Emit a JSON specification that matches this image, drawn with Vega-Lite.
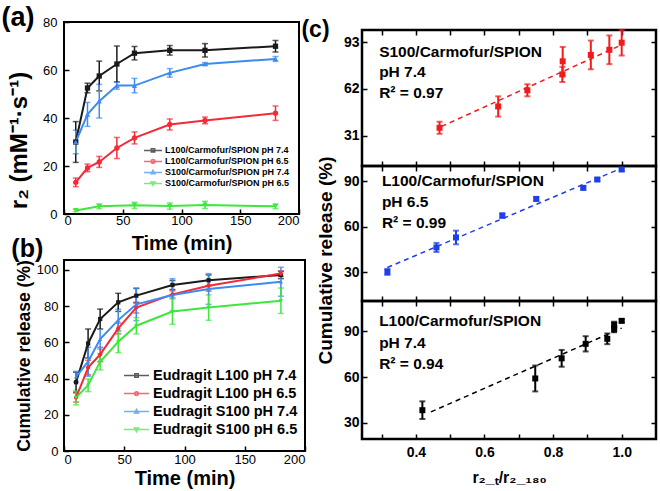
{
  "$schema": "https://vega.github.io/schema/vega-lite/v6.json",
  "background": "white",
  "padding": {"left": 0, "top": 2, "right": 2, "bottom": 2},
  "config": {
    "font": "Liberation Sans",
    "view": {"stroke": "black", "strokeWidth": 2},
    "axis": {"domain": false, "grid": false, "tickColor": "black", "labelColor": "black", "titleColor": "black", "labelFont": "Liberation Sans", "titleFont": "Liberation Sans", "titleFontWeight": "bold", "tickSize": -5, "tickWidth": 1.5},
    "title": {"font": "Liberation Sans", "fontWeight": "bold", "color": "black", "anchor": "start", "frame": "bounds"},
    "legend": {"title": null, "labelFont": "Liberation Sans", "labelFontWeight": "bold", "labelColor": "black", "symbolStrokeWidth": 1.5, "padding": 0}
  },
  "resolve": {"scale": {"color": "independent", "shape": "independent"}},
  "spacing": -7,
  "datasets": {
    "r2": [
      {"t": 10, "v": 30, "e": 8.5, "s": "L100/Carmofur/SPION pH 7.4"},
      {"t": 20, "v": 52.5, "e": 2, "s": "L100/Carmofur/SPION pH 7.4"},
      {"t": 30, "v": 57.5, "e": 6.2, "s": "L100/Carmofur/SPION pH 7.4"},
      {"t": 45, "v": 62.5, "e": 7.5, "s": "L100/Carmofur/SPION pH 7.4"},
      {"t": 60, "v": 67, "e": 2.8, "s": "L100/Carmofur/SPION pH 7.4"},
      {"t": 90, "v": 68.2, "e": 2, "s": "L100/Carmofur/SPION pH 7.4"},
      {"t": 120, "v": 68.2, "e": 2.8, "s": "L100/Carmofur/SPION pH 7.4"},
      {"t": 180, "v": 69.9, "e": 2.4, "s": "L100/Carmofur/SPION pH 7.4"},
      {"t": 10, "v": 13.2, "e": 1.8, "s": "L100/Carmofur/SPION pH 6.5"},
      {"t": 20, "v": 19.2, "e": 1.6, "s": "L100/Carmofur/SPION pH 6.5"},
      {"t": 30, "v": 21.7, "e": 2.3, "s": "L100/Carmofur/SPION pH 6.5"},
      {"t": 45, "v": 27.5, "e": 4.4, "s": "L100/Carmofur/SPION pH 6.5"},
      {"t": 60, "v": 31.7, "e": 2.5, "s": "L100/Carmofur/SPION pH 6.5"},
      {"t": 90, "v": 37.3, "e": 2.3, "s": "L100/Carmofur/SPION pH 6.5"},
      {"t": 120, "v": 39, "e": 1.4, "s": "L100/Carmofur/SPION pH 6.5"},
      {"t": 180, "v": 42, "e": 3, "s": "L100/Carmofur/SPION pH 6.5"},
      {"t": 10, "v": 30, "e": 4.9, "s": "S100/Carmofur/SPION pH 7.4"},
      {"t": 20, "v": 41.5, "e": 5, "s": "S100/Carmofur/SPION pH 7.4"},
      {"t": 30, "v": 47, "e": 7, "s": "S100/Carmofur/SPION pH 7.4"},
      {"t": 45, "v": 53.5, "e": 1.5, "s": "S100/Carmofur/SPION pH 7.4"},
      {"t": 60, "v": 53.5, "e": 3, "s": "S100/Carmofur/SPION pH 7.4"},
      {"t": 90, "v": 58.8, "e": 1.8, "s": "S100/Carmofur/SPION pH 7.4"},
      {"t": 120, "v": 62.5, "e": 0.6, "s": "S100/Carmofur/SPION pH 7.4"},
      {"t": 180, "v": 64.6, "e": 1, "s": "S100/Carmofur/SPION pH 7.4"},
      {"t": 10, "v": 1.5, "e": 0.5, "s": "S100/Carmofur/SPION pH 6.5"},
      {"t": 30, "v": 3.2, "e": 1, "s": "S100/Carmofur/SPION pH 6.5"},
      {"t": 60, "v": 3.6, "e": 1.3, "s": "S100/Carmofur/SPION pH 6.5"},
      {"t": 90, "v": 3.3, "e": 1.3, "s": "S100/Carmofur/SPION pH 6.5"},
      {"t": 120, "v": 3.8, "e": 1.5, "s": "S100/Carmofur/SPION pH 6.5"},
      {"t": 180, "v": 3.2, "e": 1, "s": "S100/Carmofur/SPION pH 6.5"}
    ],
    "rel": [
      {"t": 10, "v": 38, "e": 5.5, "s": "Eudragit L100 pH 7.4"},
      {"t": 20, "v": 59.4, "e": 8, "s": "Eudragit L100 pH 7.4"},
      {"t": 30, "v": 72.9, "e": 5.5, "s": "Eudragit L100 pH 7.4"},
      {"t": 45, "v": 82.1, "e": 5, "s": "Eudragit L100 pH 7.4"},
      {"t": 60, "v": 85.8, "e": 4, "s": "Eudragit L100 pH 7.4"},
      {"t": 90, "v": 91.7, "e": 2.5, "s": "Eudragit L100 pH 7.4"},
      {"t": 120, "v": 94.3, "e": 3, "s": "Eudragit L100 pH 7.4"},
      {"t": 180, "v": 97.2, "e": 2, "s": "Eudragit L100 pH 7.4"},
      {"t": 10, "v": 29.5, "e": 2.5, "s": "Eudragit L100 pH 6.5"},
      {"t": 20, "v": 46.1, "e": 4, "s": "Eudragit L100 pH 6.5"},
      {"t": 30, "v": 53.3, "e": 4, "s": "Eudragit L100 pH 6.5"},
      {"t": 45, "v": 67.7, "e": 3, "s": "Eudragit L100 pH 6.5"},
      {"t": 60, "v": 79.2, "e": 3, "s": "Eudragit L100 pH 6.5"},
      {"t": 90, "v": 86.5, "e": 2, "s": "Eudragit L100 pH 6.5"},
      {"t": 120, "v": 91.3, "e": 3, "s": "Eudragit L100 pH 6.5"},
      {"t": 180, "v": 98, "e": 1.5, "s": "Eudragit L100 pH 6.5"},
      {"t": 10, "v": 41, "e": 3, "s": "Eudragit S100 pH 7.4"},
      {"t": 20, "v": 49.3, "e": 8, "s": "Eudragit S100 pH 7.4"},
      {"t": 30, "v": 61.8, "e": 5.5, "s": "Eudragit S100 pH 7.4"},
      {"t": 45, "v": 72.3, "e": 6, "s": "Eudragit S100 pH 7.4"},
      {"t": 60, "v": 81, "e": 9, "s": "Eudragit S100 pH 7.4"},
      {"t": 90, "v": 86.2, "e": 9, "s": "Eudragit S100 pH 7.4"},
      {"t": 120, "v": 89.5, "e": 8.5, "s": "Eudragit S100 pH 7.4"},
      {"t": 180, "v": 93.5, "e": 8, "s": "Eudragit S100 pH 7.4"},
      {"t": 10, "v": 29.5, "e": 4, "s": "Eudragit S100 pH 6.5"},
      {"t": 20, "v": 36.3, "e": 3.5, "s": "Eudragit S100 pH 6.5"},
      {"t": 30, "v": 49.3, "e": 4.5, "s": "Eudragit S100 pH 6.5"},
      {"t": 45, "v": 60.3, "e": 6, "s": "Eudragit S100 pH 6.5"},
      {"t": 60, "v": 69.2, "e": 4.5, "s": "Eudragit S100 pH 6.5"},
      {"t": 90, "v": 77, "e": 7, "s": "Eudragit S100 pH 6.5"},
      {"t": 120, "v": 79.2, "e": 7, "s": "Eudragit S100 pH 6.5"},
      {"t": 180, "v": 83, "e": 7, "s": "Eudragit S100 pH 6.5"}
    ],
    "c1": [
      {"x": 0.469, "y": 36.3, "e": 4},
      {"x": 0.64, "y": 50.4, "e": 6.7},
      {"x": 0.725, "y": 61.1, "e": 4},
      {"x": 0.827, "y": 71.6, "e": 5},
      {"x": 0.828, "y": 80.3, "e": 9.5},
      {"x": 0.91, "y": 84.5, "e": 9.5},
      {"x": 0.964, "y": 87.9, "e": 9.5},
      {"x": 1.0, "y": 92.6, "e": 8.5}
    ],
    "c1fit": [{"x": 0.475, "y": 37.2}, {"x": 1.0, "y": 91.2}],
    "c2": [
      {"x": 0.317, "y": 30.2, "e": 2},
      {"x": 0.46, "y": 46.3, "e": 3},
      {"x": 0.517, "y": 52.9, "e": 4.5},
      {"x": 0.652, "y": 67.3, "e": 1.5},
      {"x": 0.751, "y": 78.3, "e": 1.2},
      {"x": 0.888, "y": 85.6, "e": 1},
      {"x": 0.929, "y": 91.1, "e": 1},
      {"x": 1.0, "y": 97.7, "e": 1}
    ],
    "c2fit": [{"x": 0.317, "y": 33.1}, {"x": 1.0, "y": 98.6}],
    "c3": [
      {"x": 0.419, "y": 38.4, "e": 5.8},
      {"x": 0.748, "y": 59.2, "e": 8.5},
      {"x": 0.825, "y": 72.4, "e": 5.5},
      {"x": 0.895, "y": 81.9, "e": 5},
      {"x": 0.958, "y": 85.2, "e": 3.5},
      {"x": 0.978, "y": 91.5, "e": 2},
      {"x": 0.978, "y": 94.4, "e": 2},
      {"x": 1.0, "y": 97.0, "e": 1}
    ],
    "c3fit": [{"x": 0.444, "y": 37.3}, {"x": 1.0, "y": 92.2}]
  },
  "hconcat": [
    {
      "vconcat": [
        {
          "width": 235, "height": 192,
          "title": {"text": "(a)", "fontSize": 27, "offset": -15.5, "dx": -6},
          "data": {"name": "r2"},
          "resolve": {"scale": {"color": "independent", "shape": "independent"}},
          "encoding": {
            "x": {"field": "t", "type": "quantitative", "scale": {"domain": [0, 200], "nice": false},
                  "axis": {"values": [0, 50, 100, 150, 200], "title": "Time (min)", "titleFontSize": 20, "labelFontSize": 13, "labelPadding": 5, "titlePadding": 6}},
            "y": {"field": "v", "type": "quantitative", "scale": {"domain": [0, 80], "nice": false},
                  "axis": {"values": [0, 20, 40, 60, 80], "title": "r₂ (mM⁻¹·s⁻¹)", "titleFontSize": 24, "titleY": 118, "labelFontSize": 13, "labelPadding": 12, "titlePadding": 11}}
          },
          "layer": [
            {"mark": {"type": "errorbar", "ticks": {"size": 6, "thickness": 1.5}, "thickness": 1.5},
             "encoding": {"yError": {"field": "e"},
               "color": {"field": "s", "type": "nominal", "legend": null, "scale": {"domain": ["L100/Carmofur/SPION pH 7.4", "L100/Carmofur/SPION pH 6.5", "S100/Carmofur/SPION pH 7.4", "S100/Carmofur/SPION pH 6.5"], "range": ["#1a1a1a", "#f42a36", "#3b8bf2", "#3ee63e"]}}}},
            {"mark": {"type": "line", "strokeWidth": 2},
             "encoding": {"color": {"field": "s", "type": "nominal", "legend": null, "scale": {"domain": ["L100/Carmofur/SPION pH 7.4", "L100/Carmofur/SPION pH 6.5", "S100/Carmofur/SPION pH 7.4", "S100/Carmofur/SPION pH 6.5"], "range": ["#1a1a1a", "#f42a36", "#3b8bf2", "#3ee63e"]}}}},
            {"mark": {"type": "point", "filled": true, "size": 28, "opacity": 1},
             "encoding": {
               "color": {"field": "s", "type": "nominal", "legend": null, "scale": {"domain": ["L100/Carmofur/SPION pH 7.4", "L100/Carmofur/SPION pH 6.5", "S100/Carmofur/SPION pH 7.4", "S100/Carmofur/SPION pH 6.5"], "range": ["#1a1a1a", "#f42a36", "#3b8bf2", "#3ee63e"]}},
               "shape": {"field": "s", "type": "nominal", "legend": null, "scale": {"domain": ["L100/Carmofur/SPION pH 7.4", "L100/Carmofur/SPION pH 6.5", "S100/Carmofur/SPION pH 7.4", "S100/Carmofur/SPION pH 6.5"], "range": ["square", "circle", "triangle-up", "triangle-down"]}}}},
            {"data": {"values": []},
             "mark": {"type": "point", "filled": false, "strokeWidth": 1.5},
             "encoding": {
               "color": {"field": "s", "type": "nominal", "scale": {"domain": ["L100/Carmofur/SPION pH 7.4", "L100/Carmofur/SPION pH 6.5", "S100/Carmofur/SPION pH 7.4", "S100/Carmofur/SPION pH 6.5"], "range": ["#1a1a1a", "#f42a36", "#3b8bf2", "#3ee63e"]},
                 "legend": {"orient": "none", "legendX": 79, "legendY": 123, "symbolSize": 324, "clipHeight": 10.8, "labelFontSize": 9, "rowPadding": 0, "labelOffset": 2}},
               "shape": {"field": "s", "type": "nominal", "scale": {"domain": ["L100/Carmofur/SPION pH 7.4", "L100/Carmofur/SPION pH 6.5", "S100/Carmofur/SPION pH 7.4", "S100/Carmofur/SPION pH 6.5"], "range": ["M-1,0H1M-0.19,-0.19H0.19V0.19H-0.19Z", "M-1,0H1M0.2,0A0.2,0.2,0,1,1,-0.2,0A0.2,0.2,0,1,1,0.2,0Z", "M-1,0H1M0,-0.23L0.22,0.16H-0.22Z", "M-1,0H1M0,0.23L0.22,-0.16H-0.22Z"]},
                 "legend": {"orient": "none", "legendX": 79, "legendY": 123, "symbolSize": 324, "clipHeight": 10.8, "labelFontSize": 9, "rowPadding": 0, "labelOffset": 2}}}}
          ]
        },
        {
          "width": 241, "height": 191,
          "title": {"text": "(b)", "fontSize": 25, "offset": -2, "dx": -4},
          "data": {"name": "rel"},
          "resolve": {"scale": {"color": "independent", "shape": "independent"}},
          "encoding": {
            "x": {"field": "t", "type": "quantitative", "scale": {"domain": [0, 200], "nice": false},
                  "axis": {"values": [0, 50, 100, 150, 200], "title": "Time (min)", "titleFontSize": 20, "labelFontSize": 13, "labelPadding": 7, "titlePadding": 2}},
            "y": {"field": "v", "type": "quantitative", "scale": {"domain": [0, 105.5], "nice": false},
                  "axis": {"values": [0, 20, 40, 60, 80, 100], "title": "Cumulative release (%)", "titleFontSize": 17.5, "labelFontSize": 13, "labelPadding": 11, "titlePadding": 3}}
          },
          "layer": [
            {"mark": {"type": "errorbar", "ticks": {"size": 6, "thickness": 1.5}, "thickness": 1.5},
             "encoding": {"yError": {"field": "e"},
               "color": {"field": "s", "type": "nominal", "legend": null, "scale": {"domain": ["Eudragit L100 pH 7.4", "Eudragit L100 pH 6.5", "Eudragit S100 pH 7.4", "Eudragit S100 pH 6.5"], "range": ["#1a1a1a", "#f42a36", "#3b8bf2", "#3ee63e"]}}}},
            {"mark": {"type": "line", "strokeWidth": 2},
             "encoding": {"color": {"field": "s", "type": "nominal", "legend": null, "scale": {"domain": ["Eudragit L100 pH 7.4", "Eudragit L100 pH 6.5", "Eudragit S100 pH 7.4", "Eudragit S100 pH 6.5"], "range": ["#1a1a1a", "#f42a36", "#3b8bf2", "#3ee63e"]}}}},
            {"mark": {"type": "point", "filled": true, "size": 18, "opacity": 1},
             "encoding": {
               "color": {"field": "s", "type": "nominal", "legend": null, "scale": {"domain": ["Eudragit L100 pH 7.4", "Eudragit L100 pH 6.5", "Eudragit S100 pH 7.4", "Eudragit S100 pH 6.5"], "range": ["#1a1a1a", "#f42a36", "#3b8bf2", "#3ee63e"]}},
               "shape": {"field": "s", "type": "nominal", "legend": null, "scale": {"domain": ["Eudragit L100 pH 7.4", "Eudragit L100 pH 6.5", "Eudragit S100 pH 7.4", "Eudragit S100 pH 6.5"], "range": ["square", "circle", "triangle-up", "triangle-down"]}}}},
            {"data": {"values": []},
             "mark": {"type": "point", "filled": false, "strokeWidth": 1.5},
             "encoding": {
               "color": {"field": "s", "type": "nominal", "scale": {"domain": ["Eudragit L100 pH 7.4", "Eudragit L100 pH 6.5", "Eudragit S100 pH 7.4", "Eudragit S100 pH 6.5"], "range": ["#1a1a1a", "#f42a36", "#3b8bf2", "#3ee63e"]},
                 "legend": {"orient": "none", "legendX": 59, "legendY": 107, "symbolSize": 625, "clipHeight": 17.2, "labelFontSize": 14.5, "rowPadding": 0, "labelOffset": 3}},
               "shape": {"field": "s", "type": "nominal", "scale": {"domain": ["Eudragit L100 pH 7.4", "Eudragit L100 pH 6.5", "Eudragit S100 pH 7.4", "Eudragit S100 pH 6.5"], "range": ["M-1,0H1M-0.14,-0.14H0.14V0.14H-0.14Z", "M-1,0H1M0.15,0A0.15,0.15,0,1,1,-0.15,0A0.15,0.15,0,1,1,0.15,0Z", "M-1,0H1M0,-0.17L0.16,0.12H-0.16Z", "M-1,0H1M0,0.17L0.16,-0.12H-0.16Z"]},
                 "legend": {"orient": "none", "legendX": 59, "legendY": 107, "symbolSize": 625, "clipHeight": 17.2, "labelFontSize": 14.5, "rowPadding": 0, "labelOffset": 3}}}}
          ]
        }
      ],
      "spacing": 46,
      "bounds": "flush",
      "resolve": {"scale": {"color": "independent", "shape": "independent"}}
    },
    {
      "vconcat": [
        {
          "width": 294, "height": 8,
          "view": {"stroke": null},
          "data": {"values": []},
          "mark": {"type": "point"},
          "encoding": {}
        },
        {
          "width": 294, "height": 136,
          "title": {"text": "(c)", "fontSize": 23, "offset": -13, "dx": -42},
          "view": {"strokeWidth": 2.5},
          "resolve": {"axis": {"x": "independent", "y": "independent"}},
          "layer": [
            {"data": {"name": "c1"},
             "mark": {"type": "errorbar", "ticks": {"size": 6, "thickness": 2}, "thickness": 2, "color": "#f01c1c"},
             "encoding": {
               "x": {"field": "x", "type": "quantitative", "scale": {"domain": [0.243, 1.1], "nice": false},
                     "axis": {"values": [0.3, 0.4, 0.5, 0.6, 0.7, 0.8, 0.9, 1.0], "labels": false, "title": null}},
               "y": {"field": "y", "type": "quantitative", "scale": {"domain": [11, 101], "nice": false},
                     "axis": {"values": [31, 62, 93], "title": null, "labelFontSize": 14, "labelFontWeight": "bold", "labelPadding": 8}},
               "yError": {"field": "e"}}},
            {"data": {"name": "c1"},
             "mark": {"type": "point", "shape": "square", "filled": true, "size": 36, "opacity": 1, "color": "#f01c1c"},
             "encoding": {"x": {"field": "x", "type": "quantitative", "axis": null}, "y": {"field": "y", "type": "quantitative", "axis": null}}},
            {"data": {"name": "c1fit"},
             "mark": {"type": "line", "strokeDash": [5, 4], "strokeWidth": 1.5, "color": "#f01c1c"},
             "encoding": {"x": {"field": "x", "type": "quantitative", "axis": {"orient": "top", "values": [0.3, 0.4, 0.5, 0.6, 0.7, 0.8, 0.9, 1.0], "labels": false, "title": null}},
                          "y": {"field": "y", "type": "quantitative", "axis": {"orient": "right", "values": [31, 62, 93], "labels": false, "title": null}}}},
            {"data": {"values": [{}]},
             "mark": {"type": "text", "align": "left", "baseline": "alphabetic", "fontSize": 15.5, "fontWeight": "bold", "lineHeight": 20.5, "color": "black"},
             "encoding": {"x": {"datum": 0.293, "axis": null}, "y": {"datum": 83.4, "axis": null}, "text": {"value": ["S100/Carmofur/SPION", "pH 7.4", "R² = 0.97"]}}}
          ]
        },
        {
          "width": 294, "height": 135,
          "view": {"strokeWidth": 2.5},
          "resolve": {"axis": {"x": "independent", "y": "independent"}},
          "layer": [
            {"data": {"name": "c2"},
             "mark": {"type": "errorbar", "ticks": {"size": 6, "thickness": 2}, "thickness": 2, "color": "#1e40e6"},
             "encoding": {
               "x": {"field": "x", "type": "quantitative", "scale": {"domain": [0.243, 1.1], "nice": false},
                     "axis": {"values": [0.3, 0.4, 0.5, 0.6, 0.7, 0.8, 0.9, 1.0], "labels": false, "title": null}},
               "y": {"field": "y", "type": "quantitative", "scale": {"domain": [11, 100], "nice": false},
                     "axis": {"values": [30, 60, 90], "title": "Cumulative release (%)", "titleFontSize": 19, "titleY": 94, "titlePadding": 8, "labelFontSize": 14, "labelFontWeight": "bold", "labelPadding": 8}},
               "yError": {"field": "e"}}},
            {"data": {"name": "c2"},
             "mark": {"type": "point", "shape": "square", "filled": true, "size": 36, "opacity": 1, "color": "#1e40e6"},
             "encoding": {"x": {"field": "x", "type": "quantitative", "axis": null}, "y": {"field": "y", "type": "quantitative", "axis": null}}},
            {"data": {"name": "c2fit"},
             "mark": {"type": "line", "strokeDash": [5, 4], "strokeWidth": 1.5, "color": "#1e40e6"},
             "encoding": {"x": {"field": "x", "type": "quantitative", "axis": {"orient": "top", "values": [0.3, 0.4, 0.5, 0.6, 0.7, 0.8, 0.9, 1.0], "labels": false, "title": null}},
                          "y": {"field": "y", "type": "quantitative", "axis": {"orient": "right", "values": [30, 60, 90], "labels": false, "title": null}}}},
            {"data": {"values": [{}]},
             "mark": {"type": "text", "align": "left", "baseline": "alphabetic", "fontSize": 15.5, "fontWeight": "bold", "lineHeight": 21, "color": "black"},
             "encoding": {"x": {"datum": 0.301, "axis": null}, "y": {"datum": 86.7, "axis": null}, "text": {"value": ["L100/Carmofur/SPION", "pH 6.5", "R² = 0.99"]}}}
          ]
        },
        {
          "width": 294, "height": 138,
          "view": {"strokeWidth": 2.5},
          "resolve": {"axis": {"x": "independent", "y": "independent"}},
          "layer": [
            {"data": {"name": "c3"},
             "mark": {"type": "errorbar", "ticks": {"size": 6, "thickness": 2}, "thickness": 2, "color": "#000000"},
             "encoding": {
               "x": {"field": "x", "type": "quantitative", "scale": {"domain": [0.243, 1.1], "nice": false},
                     "axis": {"values": [0.3, 0.4, 0.5, 0.6, 0.7, 0.8, 0.9, 1.0], "labelExpr": "round(datum.value*10) % 2 == 0 ? format(datum.value, '.1f') : ''", "title": "r₂_ₜ/r₂_₁₈₀", "titleFontSize": 16, "titlePadding": 10, "labelFontSize": 14, "labelFontWeight": "bold", "labelPadding": 11}},
               "y": {"field": "y", "type": "quantitative", "scale": {"domain": [19.5, 110], "nice": false},
                     "axis": {"values": [30, 60, 90], "title": null, "labelFontSize": 14, "labelFontWeight": "bold", "labelPadding": 8}},
               "yError": {"field": "e"}}},
            {"data": {"name": "c3"},
             "mark": {"type": "point", "shape": "square", "filled": true, "size": 36, "opacity": 1, "color": "#000000"},
             "encoding": {"x": {"field": "x", "type": "quantitative", "axis": null}, "y": {"field": "y", "type": "quantitative", "axis": null}}},
            {"data": {"name": "c3fit"},
             "mark": {"type": "line", "strokeDash": [5, 4], "strokeWidth": 1.5, "color": "#000000"},
             "encoding": {"x": {"field": "x", "type": "quantitative", "axis": {"orient": "top", "values": [0.3, 0.4, 0.5, 0.6, 0.7, 0.8, 0.9, 1.0], "labels": false, "title": null}},
                          "y": {"field": "y", "type": "quantitative", "axis": {"orient": "right", "values": [30, 60, 90], "labels": false, "title": null}}}},
            {"data": {"values": [{}]},
             "mark": {"type": "text", "align": "left", "baseline": "alphabetic", "fontSize": 15.5, "fontWeight": "bold", "lineHeight": 21.5, "color": "black"},
             "encoding": {"x": {"datum": 0.293, "axis": null}, "y": {"datum": 93.6, "axis": null}, "text": {"value": ["L100/Carmofur/SPION", "pH 7.4", "R² = 0.94"]}}}
          ]
        }
      ],
      "spacing": 0,
      "bounds": "flush"
    }
  ]
}
